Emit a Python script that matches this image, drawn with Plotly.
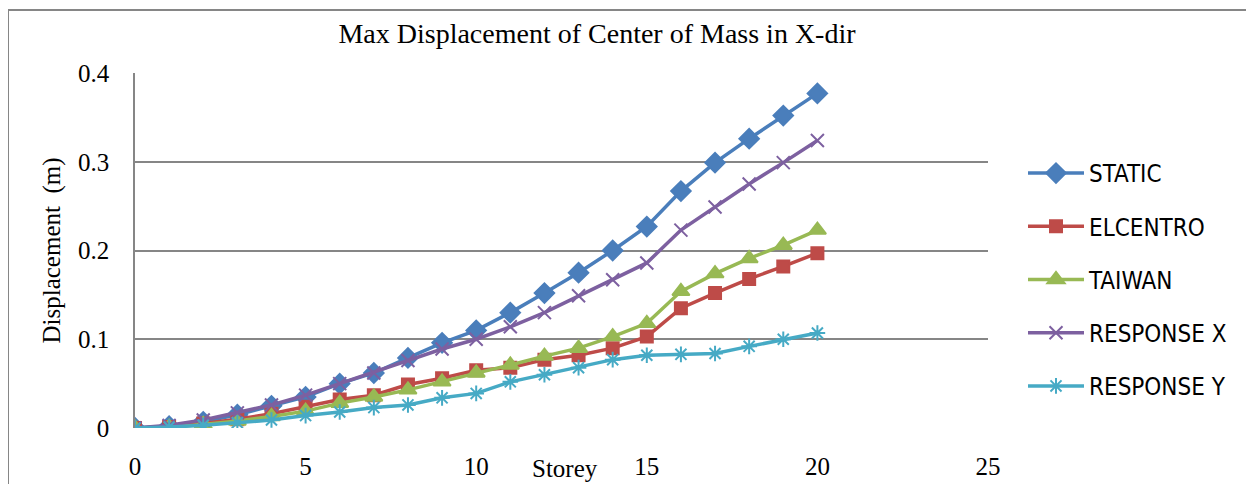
import plotly.graph_objects as go

storey = list(range(21))
static = [0, 0.002, 0.007, 0.015, 0.025, 0.035, 0.050, 0.062, 0.079, 0.096, 0.110,
          0.130, 0.152, 0.175, 0.200, 0.227, 0.267, 0.299, 0.326, 0.352, 0.377]
elcentro = [0, 0.001, 0.005, 0.010, 0.016, 0.024, 0.032, 0.037, 0.049, 0.056, 0.065,
            0.068, 0.077, 0.082, 0.090, 0.103, 0.135, 0.152, 0.168, 0.182, 0.197]
taiwan = [0, 0.001, 0.004, 0.008, 0.013, 0.019, 0.028, 0.035, 0.043, 0.052, 0.062,
          0.071, 0.081, 0.090, 0.103, 0.118, 0.154, 0.174, 0.191, 0.206, 0.223]
response_x = [0, 0.003, 0.009, 0.017, 0.026, 0.037, 0.050, 0.062, 0.076, 0.089, 0.100,
              0.114, 0.130, 0.149, 0.167, 0.186, 0.223, 0.249, 0.275, 0.299, 0.324]
response_y = [0, 0.001, 0.003, 0.006, 0.009, 0.014, 0.018, 0.023, 0.026, 0.034, 0.039,
              0.052, 0.060, 0.068, 0.077, 0.082, 0.083, 0.084, 0.092, 0.100, 0.107]

series = [
    ("STATIC", static, "#4A7EBB", dict(symbol="diamond", size=15)),
    ("ELCENTRO", elcentro, "#BE4B48", dict(symbol="square", size=12)),
    ("TAIWAN", taiwan, "#98B954", dict(symbol="triangle-up", size=15)),
    ("RESPONSE X", response_x, "#7D60A0", dict(symbol="x-thin", size=13)),
    ("RESPONSE Y", response_y, "#46AAC5", dict(symbol="asterisk", size=13)),
]

fig = go.Figure()
for name, vals, col, mk in series:
    marker = dict(color=col, line=dict(color=col, width=2), **mk)
    fig.add_trace(go.Scatter(x=storey, y=vals, name=name, mode="lines+markers",
                             line=dict(color=col, width=3.5), marker=marker,
                             legendgroup=name))

# page has an 8px body margin: work in page pixels, convert to figure pixels
OFF = 8
W, H = 1254 - OFF, 484 - OFF
L, R, T, B = 135 - OFF, 988 - OFF, 73 - OFF, 428 - OFF
def px(x): return (x - OFF - L) / (R - L)
def py(y): return (B - (y - OFF)) / (B - T)

serif = "Liberation Serif, Times New Roman, serif"
fig.update_layout(
    width=W, height=H,
    margin=dict(l=L, r=W - R, t=T, b=H - B, autoexpand=False),
    paper_bgcolor="white", plot_bgcolor="white",
    title=dict(text="Max Displacement of Center of Mass in X-dir", x=(597 - OFF) / W, xanchor="center",
               y=1 - (33 - OFF) / H, yanchor="middle", font=dict(family=serif, size=28, color="black")),
    xaxis=dict(range=[0, 25], tickvals=[0, 5, 10, 15, 20, 25], showgrid=False, zeroline=False,
               showline=False, ticks="", ticklabelstandoff=21, automargin=False,
               tickfont=dict(family=serif, size=25, color="black")),
    yaxis=dict(range=[0, 0.4], tickvals=[0, 0.1, 0.2, 0.3, 0.4], ticktext=["0", "0.1", "0.2", "0.3", "0.4"],
               showgrid=True, gridcolor="#868686", gridwidth=1.5, zeroline=False,
               showline=True, linecolor="#868686", linewidth=1.5, ticks="", ticklabelstandoff=19,
               automargin=False,
               tickfont=dict(family=serif, size=25, color="black"),
               title=dict(text="Displacement  (m)", font=dict(family=serif, size=25, color="black"), standoff=10)),
    legend=dict(x=px(1023), y=py(151), xanchor="left", yanchor="top", tracegroupgap=19,
                itemwidth=56, font=dict(family="Liberation Sans Narrow, DejaVu Sans Condensed, sans-serif", size=24, color="black"),
                bgcolor="rgba(0,0,0,0)"),
    showlegend=True,
    annotations=[dict(text="Storey", x=px(565), y=py(468), xref="paper", yref="paper",
                      xanchor="center", yanchor="middle",
                      showarrow=False, font=dict(family=serif, size=25, color="black"))],
    shapes=[dict(type="rect", xref="paper", yref="paper", x0=px(8), x1=px(1250), y0=py(500), y1=py(10),
                 line=dict(color="#868686", width=2))],
)
fig.write_html("out.html")
